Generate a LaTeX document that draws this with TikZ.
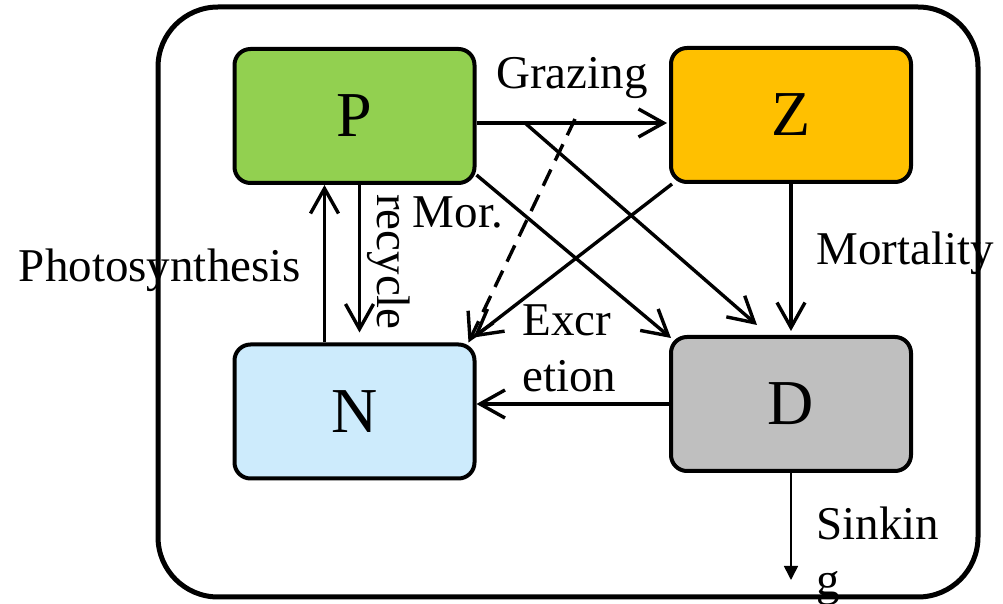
\documentclass[tikz,border=0pt]{standalone}
\usepackage{fontspec}
\setmainfont{Liberation Serif}
\usetikzlibrary{arrows.meta,calc}
\definecolor{pgreen}{HTML}{92D050}
\definecolor{zorange}{HTML}{FFC000}
\definecolor{nblue}{HTML}{CDEBFC}
\definecolor{dgray}{HTML}{BFBFBF}
\tikzset{
  box/.style={draw, line width=2pt, rounded corners=8pt, inner sep=0pt,
    minimum width=120pt, minimum height=67pt, font=\fontsize{32}{36}\selectfont},
  arr/.style={line width=1.7pt, -{Straight Barb[length=12.5pt,width=14pt]}},
  dasharr/.style={arr, dash pattern=on 9pt off 5pt},
  sinkarr/.style={line width=0.8pt, -{Triangle[length=7pt,width=7pt]}},
  lbl/.style={inner sep=0pt, font=\fontsize{23.5}{28}\selectfont}
}
\begin{document}
\begin{tikzpicture}[x=0.5pt,y=-0.5pt]
\useasboundingbox (0,0) rectangle (1003,604);
\draw[line width=2.5pt, rounded corners=30pt] (158,7) rectangle (978,597);
\node[box, fill=pgreen] (P) at (354.5,116) {P};
\node[box, fill=zorange] (Z) at (791,115) {Z};
\node[box, fill=nblue] (N) at (354.5,411.5) {N};
\node[box, fill=dgray] (D) at (791,404) {D};
\coordinate (g1) at (525,123);
\coordinate (g2) at (575,119);
\coordinate (sink) at (791,580);
% grazing
\draw[arr] ($(P.east)+(0,7)$) -- ($(Z.west)+(-2,8)$);
% photosynthesis
\draw[arr] ($(N.north)+(-30,0)$) -- ($(P.south)+(-30,0)$);
% recycle
\draw[arr] ($(P.south)+(5,0)$) -- ($(N.north)+(5,-10)$);
% mortality P -> D
\draw[arr] ($(P.east)+(0,59)$) -- ($(D.north west)+(2,3)$);
% grazing loss -> D
\draw[arr] (g1) -- ($(D.north)+(-34,-10)$);
% dashed -> N
\draw[dasharr] (g2) -- ($(N.north east)+(-8,0)$);
% Z -> N
\draw[arr] ($(Z.south west)+(3,0)$) -- ($(N.north east)+(-3,-5)$);
% Z -> D
\draw[arr] (Z.south) -- ($(D.north)+(0,-4)$);
% D -> N
\draw[arr] (D.west) -- (N.east |- D.west);
% sinking
\draw[sinkarr] (D.south) -- (sink);
% labels
\node[lbl] (lgraz) at (572,78) {Grazing};
\node[lbl] (lphot) at (160,270) {Photosynthesis};
\node[lbl, rotate=-90] (lrec) at (389,262) {recycle};
\node[lbl] (lmor) at (458,212) {Mor.};
\node[lbl] (lmort) at (905,253) {Mortality};
\node[lbl, align=left, anchor=north west] (lexc) at (522,304) {Excr\\etion};
\node[lbl, align=left, anchor=north west] (lsink) at (816,506) {Sinkin\\g};
\end{tikzpicture}
\end{document}
